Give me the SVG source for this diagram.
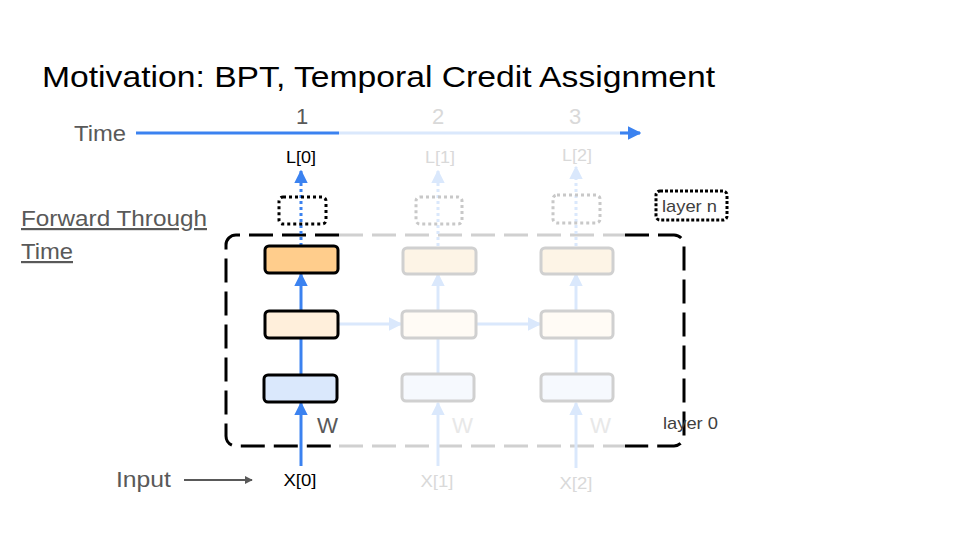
<svg xmlns="http://www.w3.org/2000/svg" width="960" height="540" viewBox="0 0 960 540">
<defs>
<style>
text{font-family:"Liberation Sans",Arial,sans-serif}
.gray{fill:#595959}
.faint{fill:#d9d9d9}
.node{stroke:#000;stroke-width:3}
.fnode{stroke:#d0d0d0;stroke-width:3}
.blue{stroke:#3b82f0;stroke-width:3;fill:none}
.lblue{stroke:#dae8fc;stroke-width:3;fill:none}
</style>
<marker id="ab" viewBox="0 0 10 10" refX="9" refY="5" markerWidth="4.5" markerHeight="4.5" orient="auto" markerUnits="strokeWidth"><path d="M0,0L10,5L0,10z" fill="#3b82f0"/></marker>
<marker id="al" viewBox="0 0 10 10" refX="9" refY="5" markerWidth="4.5" markerHeight="4.5" orient="auto" markerUnits="strokeWidth"><path d="M0,0L10,5L0,10z" fill="#dae8fc"/></marker>
<marker id="ag" viewBox="0 0 10 10" refX="9" refY="5" markerWidth="4" markerHeight="4" orient="auto" markerUnits="strokeWidth"><path d="M0,0L10,5L0,10z" fill="#595959"/></marker>
</defs>
<rect width="960" height="540" fill="#fff"/>
<text x="42" y="87" font-size="30" fill="#000" textLength="673" lengthAdjust="spacingAndGlyphs">Motivation: BPT, Temporal Credit Assignment</text>

<g id="time-axis">
<text x="74" y="141" font-size="22" class="gray" textLength="52" lengthAdjust="spacingAndGlyphs">Time</text>
<line x1="136" y1="133" x2="339" y2="133" class="blue"/>
<line x1="339" y1="133" x2="640" y2="133" stroke="#dae8fc" stroke-width="3"/>
<line x1="620" y1="133" x2="640" y2="133" stroke="#3b82f0" stroke-width="3" marker-end="url(#ab)"/>
<text x="302" y="124" font-size="22" class="gray" text-anchor="middle">1</text>
<text x="438" y="124" font-size="22" class="faint" text-anchor="middle">2</text>
<text x="575" y="124" font-size="22" class="faint" text-anchor="middle">3</text>
</g>

<g id="container">
<path d="M339,235H236a10,10 0 0 0 -10,10V436a10,10 0 0 0 10,10H339" fill="none" stroke="#000" stroke-width="3" stroke-dasharray="24,9"/>
<path d="M339,235H625M339,446H625" fill="none" stroke="#d0d0d0" stroke-width="3" stroke-dasharray="24,9"/>
<path d="M625,235H674a10,10 0 0 1 10,10V436a10,10 0 0 1 -10,10H625" fill="none" stroke="#000" stroke-width="3" stroke-dasharray="24,9"/>
</g>

<g id="connectors">
<line x1="301" y1="466" x2="301" y2="403" class="blue" marker-end="url(#ab)"/>
<line x1="301" y1="374" x2="301" y2="312" class="blue" marker-end="url(#ab)"/>
<line x1="301" y1="311" x2="301" y2="274" class="blue" marker-end="url(#ab)"/>
<line x1="301" y1="246" x2="301" y2="171" class="blue" stroke-dasharray="3,3" marker-end="url(#ab)"/>
<line x1="438" y1="466" x2="438" y2="403" class="lblue" marker-end="url(#al)"/>
<line x1="438" y1="374" x2="438" y2="312" class="lblue" marker-end="url(#al)"/>
<line x1="438" y1="311" x2="438" y2="274" class="lblue" marker-end="url(#al)"/>
<line x1="438" y1="246" x2="438" y2="171" class="lblue" stroke-dasharray="3,3" marker-end="url(#al)"/>
<line x1="576" y1="468" x2="576" y2="403" class="lblue" marker-end="url(#al)"/>
<line x1="576" y1="374" x2="576" y2="312" class="lblue" marker-end="url(#al)"/>
<line x1="576" y1="311" x2="576" y2="274" class="lblue" marker-end="url(#al)"/>
<line x1="576" y1="246" x2="576" y2="167" class="lblue" stroke-dasharray="3,3" marker-end="url(#al)"/>
<line x1="338" y1="324" x2="401" y2="324" class="lblue" marker-end="url(#al)"/>
<line x1="476" y1="324" x2="540" y2="324" class="lblue" marker-end="url(#al)"/>
<line x1="184" y1="480" x2="252" y2="480" stroke="#595959" stroke-width="2" marker-end="url(#ag)"/>
</g>

<g id="out1"><rect x="279" y="197" width="47" height="27" rx="4" fill="none" stroke="#000" stroke-width="3" stroke-dasharray="3,3"/></g>
<g id="out2"><rect x="416" y="197" width="46" height="27" rx="4" fill="none" stroke="#c8c8c8" stroke-width="3" stroke-dasharray="3,3"/></g>
<g id="out3"><rect x="553" y="195" width="47" height="28" rx="4" fill="none" stroke="#c8c8c8" stroke-width="3" stroke-dasharray="3,3"/></g>

<g id="top1"><rect x="265" y="246" width="73" height="27" rx="4" fill="#ffcd8c" class="node"/></g>
<g id="mid1"><rect x="265" y="311" width="73" height="27" rx="4" fill="#ffefdb" class="node"/></g>
<g id="bot1"><rect x="264" y="375" width="73" height="27" rx="4" fill="#dae8fc" class="node"/></g>
<g id="top2"><rect x="403" y="248" width="73" height="26" rx="4" fill="#fdf4e6" class="fnode"/></g>
<g id="mid2"><rect x="402" y="311" width="74" height="27" rx="4" fill="#fffbf5" class="fnode"/></g>
<g id="bot2"><rect x="402" y="374" width="72" height="27" rx="4" fill="#f6f9fe" class="fnode"/></g>
<g id="top3"><rect x="541" y="248" width="72" height="26" rx="4" fill="#fdf4e6" class="fnode"/></g>
<g id="mid3"><rect x="541" y="311" width="72" height="27" rx="4" fill="#fffbf5" class="fnode"/></g>
<g id="bot3"><rect x="541" y="374" width="72" height="27" rx="4" fill="#f6f9fe" class="fnode"/></g>

<g id="layer-n"><rect x="656" y="191" width="71" height="29" rx="4" fill="none" stroke="#000" stroke-width="3" stroke-dasharray="3,2"/>
<text x="662" y="212" font-size="17" fill="#404040" textLength="55" lengthAdjust="spacingAndGlyphs">layer n</text></g>
<text x="663" y="429" font-size="17" fill="#404040" textLength="55" lengthAdjust="spacingAndGlyphs">layer 0</text>

<text x="301" y="163" font-size="17" text-anchor="middle" fill="#000" textLength="30" lengthAdjust="spacingAndGlyphs">L[0]</text>
<text x="440" y="163" font-size="17" text-anchor="middle" class="faint" textLength="30" lengthAdjust="spacingAndGlyphs">L[1]</text>
<text x="577" y="161" font-size="17" text-anchor="middle" class="faint" textLength="30" lengthAdjust="spacingAndGlyphs">L[2]</text>

<text x="317" y="433" font-size="22" class="gray" textLength="21" lengthAdjust="spacingAndGlyphs">W</text>
<text x="452" y="433" font-size="22" fill="#e8e8e8" textLength="21" lengthAdjust="spacingAndGlyphs">W</text>
<text x="590" y="433" font-size="22" fill="#e8e8e8" textLength="21" lengthAdjust="spacingAndGlyphs">W</text>

<text x="300" y="486" font-size="17" text-anchor="middle" fill="#000" textLength="33" lengthAdjust="spacingAndGlyphs">X[0]</text>
<text x="437" y="487" font-size="17" text-anchor="middle" class="faint" textLength="33" lengthAdjust="spacingAndGlyphs">X[1]</text>
<text x="576" y="489" font-size="17" text-anchor="middle" class="faint" textLength="33" lengthAdjust="spacingAndGlyphs">X[2]</text>

<text x="116" y="487" font-size="22" class="gray" textLength="55" lengthAdjust="spacingAndGlyphs">Input</text>
<text x="21" y="226" font-size="22" class="gray" text-decoration="underline" textLength="186" lengthAdjust="spacingAndGlyphs">Forward Through</text>
<text x="21" y="259" font-size="22" class="gray" text-decoration="underline" textLength="52" lengthAdjust="spacingAndGlyphs">Time</text>
</svg>
